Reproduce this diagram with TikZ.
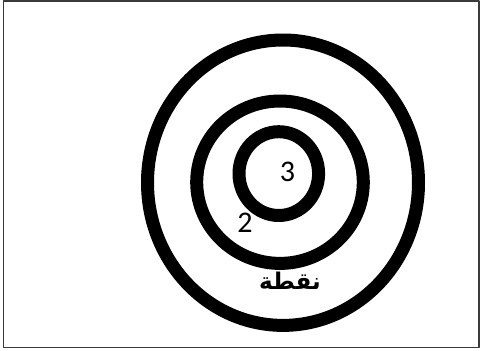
\documentclass[tikz,border=0pt]{standalone}
\usepackage{fontspec}
\setmainfont{Carlito}
\newfontfamily\arabicfont[Script=Arabic]{DejaVu Sans Bold}
\TeXXeTstate=1
\definecolor{frame}{HTML}{3A3A3A}
\tikzset{
  every picture/.style={line join=round, line cap=round},
  ring/.style={line width=13pt, black},
  digit/.style={font=\fontsize{30}{30}\selectfont, text=black, inner sep=0pt},
  word/.style={font=\arabicfont\fontsize{23}{23}\selectfont, text=black, inner sep=0pt},
}

\begin{document}
\begin{tikzpicture}[x=1pt,y=-1pt]
\useasboundingbox (0,0) rectangle (480,351);
\draw[frame,line width=1.6pt,line cap=butt](3.5,0.8) rectangle (479.2,347.5);
\node[digit] (three) at (287.5,172) {3};
\node[digit] (two) at (245,222.5) {2};
\node[word] (point) at (290,281) {\beginR نقطة\endR};
\draw[ring] (283.0,182.7) ellipse[x radius=135.5, y radius=142.7];
\draw[ring] (280.0,182.2) ellipse[x radius=83.3, y radius=81.2];
\draw[ring] (278.8,173.6) ellipse[x radius=39.8, y radius=41.9];
\end{tikzpicture}
\end{document}
